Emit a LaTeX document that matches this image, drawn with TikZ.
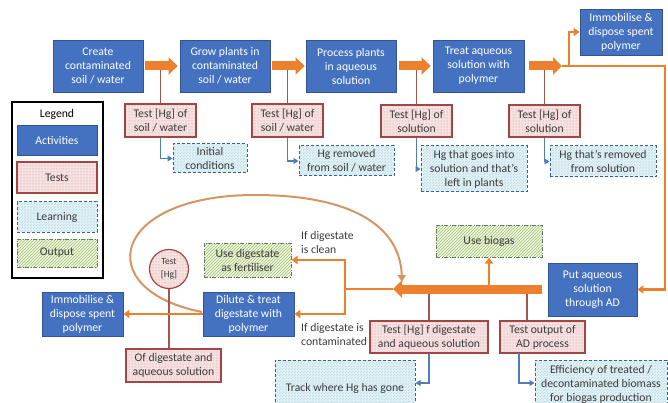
\documentclass[tikz,border=0pt]{standalone}
\usepackage{fontspec}
\setmainfont{Carlito}
\usetikzlibrary{arrows.meta,patterns}
\definecolor{actblue}{RGB}{68,114,192}
\definecolor{actedge}{RGB}{50,85,145}
\definecolor{tstfill}{RGB}{246,226,225}
\definecolor{tstdot}{RGB}{205,140,140}
\definecolor{tstedge}{RGB}{160,70,68}
\definecolor{tstline}{RGB}{165,85,80}
\definecolor{lrnfill}{RGB}{225,241,246}
\definecolor{lrnline}{RGB}{190,220,230}
\definecolor{lrnedge}{RGB}{55,100,130}
\definecolor{lrnarrow}{RGB}{79,125,185}
\definecolor{outfill}{RGB}{238,244,225}
\definecolor{outline}{RGB}{160,195,110}
\definecolor{outedge}{RGB}{100,120,100}
\definecolor{orng}{RGB}{237,128,45}
\definecolor{curv}{RGB}{212,150,100}
\definecolor{txt}{RGB}{60,60,60}
\tikzset{
  base/.style={rectangle, align=center, inner sep=1pt, font=\fontsize{11.7}{14}\selectfont},
  act/.style={base, fill=actblue, draw=actedge, line width=0.8pt, text=white},
  tst/.style={base, preaction={fill=tstfill}, pattern=dots, pattern color=tstdot, draw=tstedge, line width=1.2pt, text=txt},
  lrn/.style={base, preaction={fill=lrnfill}, pattern=north east lines, pattern color=lrnline, draw=lrnedge, line width=1pt, dash pattern=on 3pt off 2pt, text=txt},
  outb/.style={base, preaction={fill=outfill}, pattern=north east lines, pattern color=outline, draw=outedge, line width=1pt, dash pattern=on 4pt off 1.5pt on 1pt off 1.5pt, text=txt},
  blk/.style={line width=9pt, draw=orng, -{Triangle[length=9pt,width=17pt]}},
  oline/.style={line width=2.2pt, draw=orng},
  oarr/.style={oline, -{Triangle[length=6pt,width=8pt]}},
  carr/.style={line width=2pt, draw=curv, -{Triangle[length=7pt,width=8pt]}},
  tline/.style={line width=1.2pt, draw=tstline},
  larr/.style={line width=1.5pt, draw=lrnarrow, -{Triangle[length=5pt,width=6pt]}},
  lbl/.style={font=\fontsize{11.7}{14}\selectfont, text=txt, align=left, inner sep=0pt},
}
\begin{document}
\begin{tikzpicture}[x=1pt,y=-1pt]
\useasboundingbox (0,0) rectangle (668,403);
\clip (0,0) rectangle (668,403);
\fill[white] (0,0) rectangle (668,403);

% top row activities
\node[act, minimum width=90pt, minimum height=52pt] (a1) at (98,66) {Create\\contaminated\\soil / water};
\node[act, minimum width=90pt, minimum height=52pt] (a2) at (225,66) {Grow plants in\\contaminated\\soil / water};
\node[act, minimum width=90pt, minimum height=52pt] (a3) at (351,66) {Process plants\\in aqueous\\solution};
\node[act, minimum width=91pt, minimum height=52pt] (a4) at (478.5,66) {Treat aqueous\\solution with\\polymer};
\node[act, minimum width=82pt, minimum height=46pt] (a5) at (621,32) {Immobilise \&\\dispose spent\\polymer};

% tests top
\node[tst, minimum width=71pt, minimum height=33pt] (t1) at (160.5,120.5) {Test [Hg] of\\soil / water};
\node[tst, minimum width=71pt, minimum height=33pt] (t2) at (287.5,120.5) {Test [Hg] of\\soil / water};
\node[tst, minimum width=71pt, minimum height=32pt] (t3) at (416.5,121) {Test [Hg] of\\solution};
\node[tst, minimum width=71pt, minimum height=32pt] (t4) at (544.5,121) {Test [Hg] of\\solution};

% learning top
\node[lrn, minimum width=74pt, minimum height=29pt] (l1) at (210,158.5) {Initial\\conditions};
\node[lrn, minimum width=95pt, minimum height=30pt] (l2) at (346.5,161) {Hg removed\\from soil / water};
\node[lrn, minimum width=106pt, minimum height=46pt] (l3) at (474,169) {Hg that goes into\\solution and that's\\left in plants};
\node[lrn, minimum width=106pt, minimum height=31pt] (l4) at (603,161.5) {Hg that's removed\\from solution};

% test lines under arrows
\draw[tline] (t1.north) -- (t1.north |- a1.east);
\draw[tline] (t2.north) -- (t2.north |- a2.east);
\draw[tline] (t3.north) -- (t3.north |- a3.east);
\draw[tline] (t4.north) -- (t4.north |- a4.east);

% block arrows top
\coordinate (j) at (562,66);
\coordinate (j2) at (569,66);
\coordinate (rc) at (665,66);
\draw[oarr] (j2) |- (a5.west);
\draw[blk] ([xshift=2pt]a1.east) -- ([xshift=-2pt]a2.west);
\draw[blk] ([xshift=2pt]a2.east) -- ([xshift=-1pt]a3.west);
\draw[blk] ([xshift=3pt]a3.east) -- ([xshift=-2pt]a4.west);
\draw[blk] ([xshift=5pt]a4.east) -- (j);

% learning arrows top
\draw[larr] (t1.south) |- (l1.west);
\draw[larr] (t2.south) |- (l2.west);
\draw[larr] (t3.south) |- (l3.west);
\draw[larr] (t4.south) |- (l4.west);

% legend
\node[draw=black, line width=2pt, minimum width=91pt, minimum height=176pt] (leg) at (57.5,190) {};
\node[lbl, text=black] (legt) at (57,114) {Legend};
\node[act, minimum width=80pt, minimum height=30pt] (la) at (57,140) {Activities};
\node[tst, minimum width=80pt, minimum height=31pt] (lt) at (57,177.5) {Tests};
\node[lrn, minimum width=80pt, minimum height=30pt] (ll) at (57,217) {Learning};
\node[outb, minimum width=80pt, minimum height=28pt] (lo) at (57,253) {Output};

% bottom part
\node[act, minimum width=89pt, minimum height=53pt] (ad) at (592.5,289.5) {Put aqueous\\solution\\through AD};
\draw[oarr] (j) -- (rc) |- (ad.east);

\node[outb, minimum width=106pt, minimum height=32pt] (bio) at (489,241) {Use biogas};
\node[tst, minimum width=118pt, minimum height=32pt] (t6) at (429,337) {Test [Hg] f digestate\\and aqueous solution};
\node[tst, minimum width=85pt, minimum height=32pt] (t7) at (542.5,337) {Test output of\\AD process};
\node[lrn, minimum width=140pt, minimum height=56pt] (l5) at (345,388) {Track where Hg has gone};
\node[lrn, minimum width=132pt, minimum height=48pt] (l6) at (601,384) {Efficiency of treated /\\decontaminated biomass\\for biogas production};

\node[outb, minimum width=87pt, minimum height=34pt] (fert) at (247.5,260) {Use digestate\\as fertiliser};
\node[act, minimum width=81pt, minimum height=44pt] (imm) at (82.5,314) {Immobilise \&\\dispose spent\\polymer};
\node[act, minimum width=91pt, minimum height=44pt] (dil) at (248.5,314) {Dilute \& treat\\digestate with\\polymer};
\node[tst, minimum width=95pt, minimum height=33pt] (t5) at (173.5,365.5) {Of digestate and\\aqueous solution};

\node[lbl, anchor=west] (lc) at (301,242) {If digestate\\is clean};
\node[lbl, anchor=west] (lx) at (301,334) {If digestate is\\contaminated};

% curved loop
\coordinate (cs) at (202,312);
\coordinate (ce) at (402,282);
\draw[carr] (cs) .. controls (90,290) and (110,195) .. (255,195) .. controls (350,195) and (400,225) .. (ce);

\node[tst, circle, minimum size=39pt, inner sep=0pt, font=\fontsize{9.5}{13}\selectfont] (c) at (169,269) {Test\\{[Hg]}};
\draw[tline] (c.south) -- (c.south |- t5.north);

% main left arrow and branches
\coordinate (mr) at (542,289);
\coordinate (mt) at (393,289);
\coordinate (sp) at (345,289);
\coordinate (bg) at (489,289);
\coordinate (c6) at (429,289);
\coordinate (c7) at (527,289);
\coordinate (d7) at (519,353);
\draw[tline] (c6) -- (t6.north);
\draw[tline] (c7) -- (c7 |- t7.north);
\draw[oarr] (bg) -- (bio.south);
\draw[blk] (mr) -- (mt);
\draw[oline] (mt) -- (sp);
\draw[oarr] (sp) |- (fert.east);
\draw[oarr] (sp) |- (dil.east);
\draw[oarr] (dil.west) -- (imm.east);

\draw[larr] (t6.south) |- ([yshift=5pt]l5.east);
\draw[larr] (d7) |- ([yshift=1pt]l6.west);
\end{tikzpicture}
\end{document}
